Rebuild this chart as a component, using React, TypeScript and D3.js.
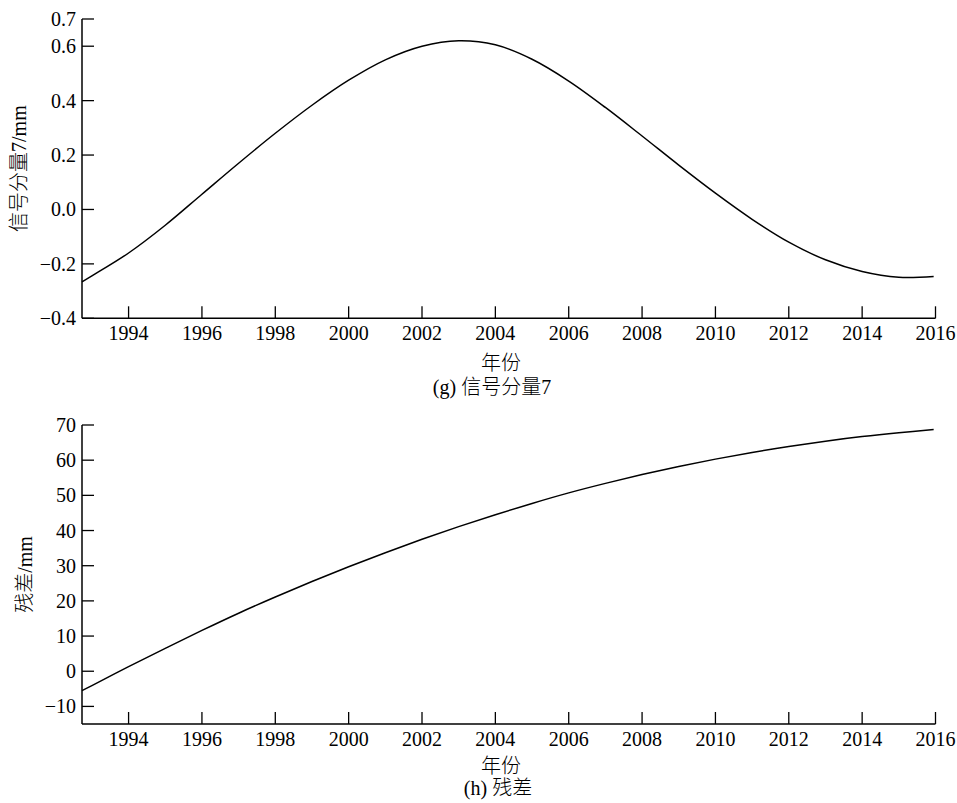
import React from "react";
import * as d3 from "d3";

const years = [1992.73, 1993, 1994, 1995, 1996, 1997, 1998, 1999, 2000, 2001, 2002, 2003, 2004, 2005, 2006, 2007, 2008, 2009, 2010, 2011, 2012, 2013, 2014, 2015, 2015.95];
const signal7 = [-0.266, -0.244, -0.160, -0.058, 0.056, 0.170, 0.280, 0.383, 0.475, 0.550, 0.600, 0.620, 0.605, 0.552, 0.472, 0.375, 0.270, 0.163, 0.060, -0.036, -0.120, -0.185, -0.228, -0.249, -0.246];
const residual = [-5.5, -4.1, 1.3, 6.5, 11.6, 16.5, 21.1, 25.5, 29.7, 33.7, 37.5, 41.1, 44.5, 47.7, 50.7, 53.4, 55.9, 58.2, 60.3, 62.2, 63.9, 65.4, 66.7, 67.8, 68.7];
const xTicks = [1994, 1996, 1998, 2000, 2002, 2004, 2006, 2008, 2010, 2012, 2014, 2016];
const topYTicks = [-0.4, -0.2, 0.0, 0.2, 0.4, 0.6, 0.7];
const botYTicks = [-10, 0, 10, 20, 30, 40, 50, 60, 70];

const FONT = "'Liberation Serif', 'Times New Roman', 'Noto Sans CJK SC', serif";

function fmtTop(v: number) {
  const s = Math.abs(v).toFixed(1);
  return v < -1e-9 ? "\u2212" + s : s;
}
function fmtBot(v: number) {
  return v < 0 ? "\u2212" + Math.abs(v) : String(v);
}

type PanelProps = {
  top: number;
  bottom: number;
  yDomain: [number, number];
  yTicks: number[];
  values: number[];
  fmt: (v: number) => string;
  yTitle: string;
  yTitleX: number;
  xTitleY: number;
  caption: string;
  captionX: number;
  captionY: number;
};

function Panel(p: PanelProps) {
  const left = 82;
  const right = 935.5;
  const x = d3.scaleLinear().domain([1992.73, 2016]).range([left, right]);
  const y = d3.scaleLinear().domain(p.yDomain).range([p.bottom, p.top]);
  const line = d3
    .line<number>()
    .x((_, i) => x(years[i]))
    .y((d) => y(d))
    .curve(d3.curveCatmullRom.alpha(0.5));
  const tickLen = 12;
  return (
    <g>
      <path d={line(p.values) || ""} fill="none" stroke="#000" strokeWidth={1.5} />
      <line x1={left} x2={left} y1={y(p.yDomain[1])} y2={p.bottom} stroke="#000" strokeWidth={1.5} />
      <line x1={left} x2={right} y1={p.bottom} y2={p.bottom} stroke="#000" strokeWidth={1.5} />
      {p.yTicks.map((t) => (
        <g key={"y" + t}>
          <line x1={left} x2={left + tickLen} y1={y(t)} y2={y(t)} stroke="#000" strokeWidth={1.3} />
          <text x={left - 6} y={y(t)} dy="0.35em" textAnchor="end" fontSize={20} fontFamily={FONT}>
            {p.fmt(t)}
          </text>
        </g>
      ))}
      {xTicks.map((t) => (
        <g key={"x" + t}>
          <line x1={x(t)} x2={x(t)} y1={p.bottom} y2={p.bottom - tickLen} stroke="#000" strokeWidth={1.3} />
          <text x={x(t)} y={p.bottom + 22} textAnchor="middle" fontSize={20} fontFamily={FONT}>
            {t}
          </text>
        </g>
      ))}
      <text
        transform={`translate(${p.yTitleX},${(p.top + p.bottom) / 2}) rotate(-90)`}
        textAnchor="middle"
        dy="0.35em"
        fontSize={20}
        fontWeight={300}
        fontFamily={FONT}
      >
        {p.yTitle}
      </text>
      <text x={501} y={p.xTitleY} textAnchor="middle" fontSize={20} fontWeight={300} fontFamily={FONT}>
        年份
      </text>
      <text x={p.captionX} y={p.captionY} textAnchor="middle" fontSize={20} fontWeight={300} fontFamily={FONT}>
        {p.caption}
      </text>
    </g>
  );
}

export default function App() {
  return (
    <svg
      width={957}
      height={803}
      style={{ position: "absolute", left: 0, top: 0, background: "#fff" }}
    >
      <rect width={957} height={803} fill="#fff" />
      <Panel
        top={19}
        bottom={318.3}
        yDomain={[-0.4, 0.7]}
        yTicks={topYTicks}
        values={signal7}
        fmt={fmtTop}
        yTitle="信号分量7/mm"
        yTitleX={19}
        xTitleY={370}
        caption="(g) 信号分量7"
        captionX={492}
        captionY={394}
      />
      <Panel
        top={425}
        bottom={724}
        yDomain={[-15, 70]}
        yTicks={botYTicks}
        values={residual}
        fmt={fmtBot}
        yTitle="残差/mm"
        yTitleX={25}
        xTitleY={773}
        caption="(h) 残差"
        captionX={498}
        captionY={795}
      />
    </svg>
  );
}
